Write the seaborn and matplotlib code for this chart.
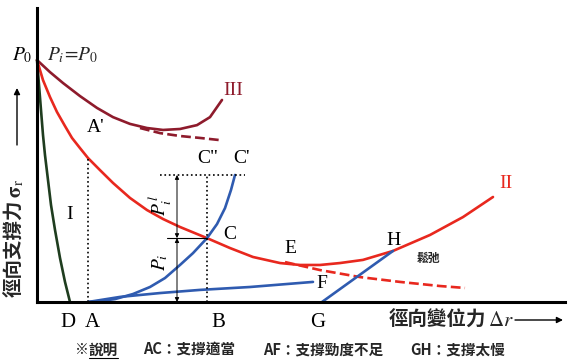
import matplotlib
matplotlib.use("Agg")
import matplotlib.pyplot as plt
from matplotlib.lines import Line2D
import pandas as pd
import seaborn as sns

# =====================================================
# CURVE DATA (x = radial displacement, y = pressure / P0)
# =====================================================

curve_I_x = [0.0, 0.02, 0.04, 0.06, 0.08, 0.11, 0.14, 0.18, 0.23, 0.28, 0.33]
curve_I_y = [1.0, 0.897, 0.793, 0.690, 0.607, 0.504, 0.401, 0.298, 0.182, 0.083, 0.0]

curve_II_x = [0.0, 0.06, 0.13, 0.20, 0.28, 0.35, 0.43, 0.51, 0.63, 0.76, 0.93,
              1.10, 1.26, 1.43, 1.70, 1.93, 2.16, 2.43, 2.63, 2.83, 3.03,
              3.26, 3.56, 3.93, 4.26, 4.56]
curve_II_y = [1.0, 0.917, 0.847, 0.785, 0.727, 0.678, 0.636, 0.595, 0.545, 0.492, 0.430,
              0.380, 0.343, 0.310, 0.264, 0.223, 0.186, 0.161, 0.153, 0.153, 0.161,
              0.174, 0.211, 0.277, 0.351, 0.434]

curve_II_dash_x = [2.48, 2.83, 3.23, 3.63, 4.03, 4.28]
curve_II_dash_y = [0.165, 0.132, 0.103, 0.083, 0.066, 0.058]

curve_III_x = [0.0, 0.13, 0.26, 0.43, 0.60, 0.76, 0.93, 1.10, 1.26, 1.43, 1.60, 1.73, 1.85]
curve_III_y = [1.0, 0.950, 0.905, 0.851, 0.802, 0.764, 0.736, 0.719, 0.711, 0.715, 0.731, 0.764, 0.835]

curve_III_dash_x = [1.03, 1.23, 1.43, 1.63, 1.83]
curve_III_dash_y = [0.719, 0.698, 0.686, 0.678, 0.669]

support_AC_x = [0.51, 0.63, 0.78, 0.96, 1.13, 1.28, 1.43, 1.56, 1.70, 1.80, 1.88, 1.94, 1.98]
support_AC_y = [0.0, 0.004, 0.012, 0.033, 0.062, 0.099, 0.153, 0.202, 0.264, 0.322, 0.388, 0.463, 0.525]

support_AF_x = [0.51, 0.83, 1.23, 1.63, 2.13, 2.76]
support_AF_y = [0.0, 0.021, 0.037, 0.050, 0.062, 0.083]

support_GH_x = [2.85, 3.56]
support_GH_y = [0.0, 0.211]

# key points
A_x, A_prime_y = 0.51, 0.595
B_x, C_y, C2_y = 1.70, 0.264, 0.525
arrow_x = 1.40

point_labels = ["D", "A", "B", "G"]
point_label_x = [0.31, 0.55, 1.81, 2.81]

caption_parts = ["AC：支撐適當", "AF：支撐勁度不足", "GH：支撐太慢"]
caption_left_px = [143, 263, 410]

red = "#e8281e"
maroon = "#8e1b2c"
blue = "#2f5bb0"
green = "#1f3d1f"

sns.set_theme(style="white")
plt.rcParams["mathtext.fontset"] = "stix"
cjk = ["Noto Sans CJK TC", "DejaVu Sans"]
serif = ["Liberation Serif", "DejaVu Serif"]

W, H = 568, 363
fig = plt.figure(figsize=(W / 100, H / 100), dpi=100)
ax = fig.add_axes([37 / W, 61 / H, 528 / W, 294 / H])
ax.set_xlim(0, 5.28)
ax.set_ylim(0, 1.215)

for s in ["top", "right"]:
    ax.spines[s].set_visible(False)
for s in ["left", "bottom"]:
    ax.spines[s].set_linewidth(2.2)
    ax.spines[s].set_color("black")
ax.set_xticks([])
ax.set_yticks([])


def draw(xs, ys, color, ls="-", lw=1.9):
    d = pd.DataFrame({"x": xs, "y": ys})
    sns.lineplot(data=d, x="x", y="y", sort=False, color=color,
                 linestyle=ls, linewidth=lw, ax=ax, clip_on=False)


draw(curve_III_dash_x, curve_III_dash_y, maroon, "--")
draw(curve_III_x, curve_III_y, maroon)
draw(curve_II_dash_x, curve_II_dash_y, red, "--")
draw(curve_II_x, curve_II_y, red)
draw(curve_I_x, curve_I_y, green)
draw(support_AC_x, support_AC_y, blue)
draw(support_AF_x, support_AF_y, blue)
draw(support_GH_x, support_GH_y, blue)
ax.set_xlabel("")
ax.set_ylabel("")

# dotted guides
ax.plot([A_x, A_x], [0, A_prime_y], color="black", ls=":", lw=1.2)
ax.plot([B_x, B_x], [0, C2_y], color="black", ls=":", lw=1.2)
ax.plot([1.23, 2.08], [C2_y, C2_y], color="black", ls=":", lw=1.2)
ax.plot([1.30, B_x], [C_y, C_y], color="black", lw=0.8)

arrow = dict(arrowstyle="<|-|>", lw=0.7, color="black", mutation_scale=6,
             shrinkA=0, shrinkB=0)
ax.annotate("", xy=(arrow_x, C2_y), xytext=(arrow_x, C_y), arrowprops=arrow)
ax.annotate("", xy=(arrow_x, C_y), xytext=(arrow_x, 0), arrowprops=arrow)

# labels
lab = dict(family=serif, fontsize=14, color="black", ha="center", va="center")
ax.text(-0.15, 1.02, r"$P_0$", clip_on=False, **lab)
ax.text(0.10, 1.02, r"$P_i\!=\!P_0$", family=serif, fontsize=14, ha="left", va="center")
ax.text(1.96, 0.876, "III", **{**lab, "color": maroon})
ax.text(0.59, 0.72, "A'", **lab)
ax.text(1.71, 0.595, 'C"', **lab)
ax.text(2.04, 0.595, "C'", **lab)
ax.text(1.23, 0.40, r"$P_i^{\,l}$", rotation=90, **lab)
ax.text(1.23, 0.165, r"$P_i$", rotation=90, **lab)
ax.text(1.93, 0.28, "C", **lab)
ax.text(0.33, 0.36, "I", **lab)
ax.text(4.69, 0.49, "II", **{**lab, "color": red})
ax.text(2.53, 0.223, "E", **lab)
ax.text(3.57, 0.256, "H", **lab)
ax.text(2.85, 0.078, "F", **lab)
ax.text(3.80, 0.18, "鬆弛", family=cjk, fontsize=8.5, weight="bold", ha="left", va="center")
for name, px in zip(point_labels, point_label_x):
    ax.text(px, -0.083, name, clip_on=False, **{**lab, "fontsize": 15})

renderer = fig.canvas.get_renderer()
arrow_big = dict(arrowstyle="-|>", lw=1.0, color="black", mutation_scale=9,
                 shrinkA=0, shrinkB=0)

# x axis title
xt = fig.text(389 / W, 1 - 320 / H, "徑向變位力", family=cjk, fontsize=14,
              weight="bold", ha="left", va="center")
bx = xt.get_window_extent(renderer)
fig.text(bx.x1 / W + 0.002, 1 - 320 / H, r"$\Delta r$", fontsize=15,
         ha="left", va="center")
ax.annotate("", xy=(563 / W, 1 - 320 / H), xytext=(515 / W, 1 - 320 / H),
            xycoords="figure fraction", textcoords="figure fraction",
            annotation_clip=False, arrowprops=arrow_big)

# y axis title
yt = fig.text(15 / W, 1 - 297 / H, "徑向支撐力", family=cjk, fontsize=14,
              weight="bold", rotation=90, ha="center", va="bottom")
by = yt.get_window_extent(renderer)
fig.text(16 / W, by.y1 / H + 0.004, r"$\mathbf{\sigma}_\mathrm{r}$", fontsize=15,
         rotation=90, ha="center", va="bottom")
ax.annotate("", xy=(17 / W, 1 - 88 / H), xytext=(17 / W, 1 - 145 / H),
            xycoords="figure fraction", textcoords="figure fraction",
            annotation_clip=False, arrowprops=arrow_big)

# caption with underlined 說明
cy = 1 - 350 / H
t1 = fig.text(75 / W, cy, "※", family=cjk, fontsize=10, va="center")
b1 = t1.get_window_extent(renderer)
t2 = fig.text(b1.x1 / W, cy, "說明", family=cjk, fontsize=10.5, weight="bold", va="center")
b2 = t2.get_window_extent(renderer)
fig.add_artist(Line2D([b2.x0 / W, b2.x1 / W], [(b2.y0 + 0.5) / H] * 2,
                      color="black", lw=0.8))
for part, px in zip(caption_parts, caption_left_px):
    fig.text(px / W, cy, part, family=cjk, fontsize=10.5, weight="bold", va="center")

fig.savefig("out.png", dpi=100)
